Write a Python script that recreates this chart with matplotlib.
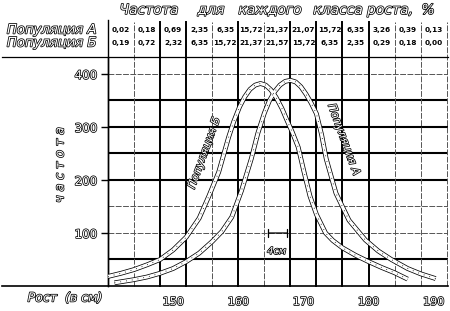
import matplotlib.pyplot as plt
import matplotlib.patheffects as pe

# population B (left curve) and A (right curve): height in cm, frequency
height_b = [140, 142, 144, 146, 148, 150, 152, 154, 155.5, 157, 158.5, 159.3, 160.2, 161,
            161.8, 162.6, 163.4, 164.2, 165, 165.8, 166.7, 167.5, 168.3, 169.2, 170, 171,
            172, 173.4, 174.5, 176, 178, 180, 182, 184, 186]
freq_b = [18, 24, 31, 40, 50, 68, 92, 128, 170, 215, 280, 310, 338, 357,
          371, 379, 382, 379, 370, 356, 335, 312, 290, 262, 220, 170,
          135, 100, 86, 72, 58, 46, 35, 25, 13]

height_a = [141, 144, 146, 148, 150, 152, 154, 156, 157.5, 159, 160.5, 162, 163, 164,
            164.8, 165.6, 166.4, 167.2, 168, 168.8, 169.6, 170.4, 171.2, 172, 172.8, 173.5,
            175, 177, 179.5, 181.5, 183.5, 186, 188, 190.3]
freq_a = [6, 12, 17, 24, 33, 46, 62, 84, 103, 130, 180, 240, 288, 326,
          350, 367, 379, 386, 388, 385, 376, 362, 345, 325, 285, 240,
          175, 124, 87, 66, 50, 33, 23, 14]

# class boundaries (4 cm) and the percentage table above the chart
class_edges = [140, 144, 148, 152, 156, 160, 164, 168, 172, 176, 180, 184, 188, 192]
pct_a = ["0,02", "0,18", "0,69", "2,35", "6,35", "15,72", "21,37", "21,07", "15,72",
         "6,35", "3,26", "0,39", "0,13"]
pct_b = ["0,19", "0,72", "2,32", "6,35", "15,72", "21,37", "21,57", "15,72", "6,35",
         "2,35", "0,29", "0,18", "0,00"]

y_ticks = [100, 200, 300, 400]
x_ticks = [150, 160, 170, 180, 190]
header_words = ["Частота", "для", "каждого", "класса", "роста,", "%"]
header_x = [149, 211, 270, 338, 390, 428]

hollow = [pe.withStroke(linewidth=1.1, foreground='black')]

fig = plt.figure(figsize=(4.5, 3.11), dpi=100)
ax = fig.add_axes([108 / 450, 25 / 311, 340 / 450, 229 / 311])
ax.set_xlim(140, 192.2)
ax.set_ylim(0, 432)
for s in ['top', 'right', 'bottom']:
    ax.spines[s].set_visible(False)
ax.spines['left'].set_linewidth(1.0)

# grid: some lines printed heavy, some light
heavy_y = [50, 200, 250, 300, 350]
for v in range(50, 401, 50):
    if v in heavy_y:
        ax.axhline(v, color='black', lw=1.5, zorder=1)
    else:
        ax.axhline(v, color='#555555', lw=0.7, ls=(0, (6, 1.5)), zorder=1)
heavy_x = [148, 152, 160, 168, 172, 176, 180]
xtr = ax.get_xaxis_transform()
for e in class_edges[1:]:
    if e in heavy_x:
        ax.plot([e, e], [0, 1.153], color='black', lw=1.4, transform=xtr, clip_on=False, zorder=1)
    else:
        ax.plot([e, e], [0, 1.153], color='#555555', lw=0.7, ls=(0, (6, 1.5)),
                transform=xtr, clip_on=False, zorder=1)
ax.plot([140, 140], [0, 1.16], color='black', lw=1.0, transform=xtr, clip_on=False)

# baseline running out to the left edge and the line under the table
fig.add_artist(plt.Line2D([0.005, 448 / 450], [25 / 311, 25 / 311], color='black', lw=1.2))
fig.add_artist(plt.Line2D([0.005, 448 / 450], [254 / 311, 254 / 311], color='black', lw=0.9))


def band(x, y):
    ax.plot(x, y, color='black', lw=3.4, solid_capstyle='butt', solid_joinstyle='round', zorder=3)
    ax.plot(x, y, color='white', lw=2.3, solid_capstyle='butt', solid_joinstyle='round', zorder=4)
    ax.plot(x, y, color='black', lw=0.6, ls=(0, (1, 6)), zorder=5)


band(height_b, freq_b)
band(height_a, freq_a)

# curve labels and the 4 cm shift mark
ax.text(154.8, 251, "Популяция Б", rotation=70, ha='center', va='center', fontsize=8,
        style='italic', color='white', path_effects=hollow, zorder=6)
ax.text(176.2, 276, "Популяция А", rotation=-70, ha='center', va='center', fontsize=8,
        style='italic', color='white', path_effects=hollow, zorder=6)
ax.annotate('', xy=(167.9, 100), xytext=(164.2, 100),
            arrowprops=dict(arrowstyle='|-|, widthA=0.3, widthB=0.3', lw=0.9, color='black'),
            zorder=6)
ax.text(165.9, 66, "4см", ha='center', va='center', fontsize=7, style='italic',
        color='white', path_effects=hollow, zorder=6)

# ticks
ax.set_yticks(y_ticks)
ax.set_yticklabels([str(v) for v in y_ticks], fontsize=8.5, color='white')
for lab in ax.get_yticklabels():
    lab.set_path_effects(hollow)
ax.tick_params(axis='y', length=5, width=1, pad=3)
ax.set_xticks(x_ticks)
ax.set_xticklabels([str(v) for v in x_ticks], fontsize=8, color='white')
for lab in ax.get_xticklabels():
    lab.set_path_effects(hollow)
ax.tick_params(axis='x', length=0, pad=8)

fig.text(65 / 450, 1 - 298 / 311, "Рост  (в см)", ha='center', va='center', fontsize=9,
         style='italic', color='white', path_effects=hollow)
fig.text(60 / 450, 1 - 165 / 311, "ч а с т о т а", rotation=90, ha='center', va='center',
         fontsize=9, style='italic', color='white', path_effects=hollow)

# table above the chart
centers = [(class_edges[i] + class_edges[i + 1]) / 2 for i in range(len(pct_a))]
for c, a, b in zip(centers, pct_a, pct_b):
    ax.text(c, 1.118, a, transform=xtr, ha='center', va='center', fontsize=5.3,
            fontweight='bold', clip_on=False)
    ax.text(c, 1.061, b, transform=xtr, ha='center', va='center', fontsize=5.3,
            fontweight='bold', clip_on=False)
fig.text(52 / 450, 1 - 30 / 311, "Популяция А", ha='center', va='center', fontsize=9.5,
         style='italic', color='white', path_effects=hollow)
fig.text(52 / 450, 1 - 43 / 311, "Популяция Б", ha='center', va='center', fontsize=9.5,
         style='italic', color='white', path_effects=hollow)
for w, hx in zip(header_words, header_x):
    fig.text(hx / 450, 1 - 10 / 311, w, ha='center', va='center', fontsize=10,
             style='italic', color='white', path_effects=hollow)

fig.savefig('out.png', dpi=100)
